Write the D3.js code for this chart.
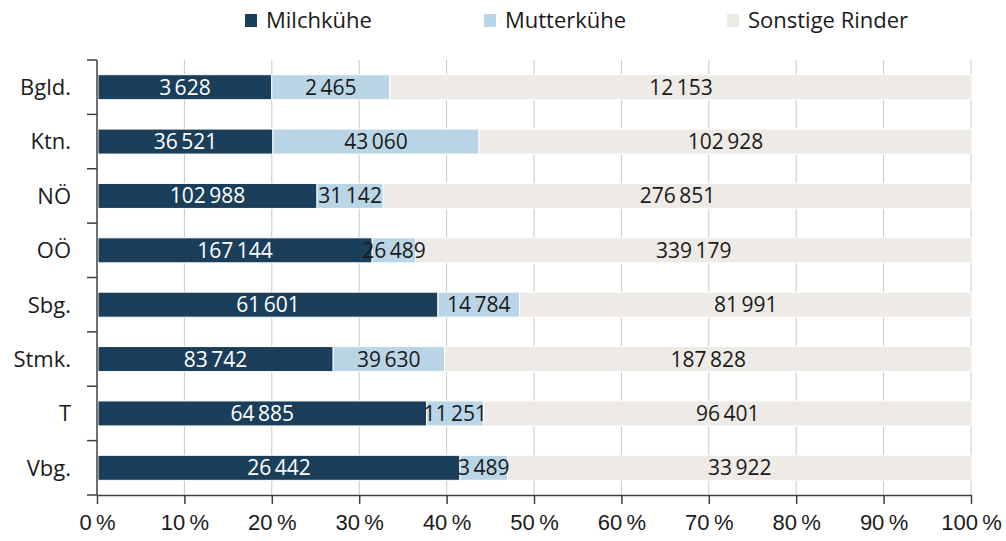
<!DOCTYPE html>
<html>
<head>
<meta charset="utf-8">
<script src="https://cdn.jsdelivr.net/npm/d3@7"></script>
<style>
  html, body { margin: 0; padding: 0; background: #fff; }
  svg { display: block; font-family: "Open Sans", Lato, sans-serif; }
</style>
</head>
<body>
<svg id="chart" width="1006" height="541"></svg>
<script>
const regions = ["Bgld.", "Ktn.", "NÖ", "OÖ", "Sbg.", "Stmk.", "T", "Vbg."];
const milchkuehe = [3628, 36521, 102988, 167144, 61601, 83742, 64885, 26442];
const mutterkuehe = [2465, 43060, 31142, 26489, 14784, 39630, 11251, 3489];
const sonstige = [12153, 102928, 276851, 339179, 81991, 187828, 96401, 33922];
const seriesNames = ["Milchkühe", "Mutterkühe", "Sonstige Rinder"];
const xTicks = [0, 10, 20, 30, 40, 50, 60, 70, 80, 90, 100];

const colors = ["#1b3f5a", "#bad6e6", "#eeeae6"];
const labelColors = ["#ffffff", "#1a1a1a", "#1a1a1a"];

const svg = d3.select("#chart");
const margin = { left: 97, right: 35, top: 60, bottom: 46 };
const width = 1006, height = 541;

const x = d3.scaleLinear().domain([0, 100]).range([margin.left, width - margin.right]);
const y = d3.scaleBand().domain(regions).range([margin.top, height - margin.bottom]).paddingInner(0.54).paddingOuter(0.27);

const fmt = d3.formatLocale({ decimal: ",", thousands: "\u2009", grouping: [3], currency: ["", "€"] }).format(",d");

const rows = regions.map((r, i) => {
  const vals = [milchkuehe[i], mutterkuehe[i], sonstige[i]];
  const total = d3.sum(vals);
  let acc = 0;
  return vals.map((v, k) => {
    const seg = { region: r, k, value: v, x0: acc / total * 100, x1: (acc + v) / total * 100 };
    acc += v;
    return seg;
  });
});

// gridlines
svg.append("g")
  .selectAll("line")
  .data(xTicks.filter(d => d > 0))
  .join("line")
  .attr("x1", d => x(d)).attr("x2", d => x(d))
  .attr("y1", margin.top).attr("y2", height - margin.bottom)
  .attr("stroke", "#c8c8c8").attr("stroke-width", 1);

// bars
const segs = rows.flat();
svg.append("g")
  .selectAll("rect")
  .data(segs)
  .join("rect")
  .attr("x", d => x(d.x0) + 1)
  .attr("y", d => y(d.region))
  .attr("width", d => x(d.x1) - x(d.x0))
  .attr("height", y.bandwidth())
  .attr("fill", d => colors[d.k])
  .attr("stroke", "#fff")
  .attr("stroke-width", 1);

svg.append("g")
  .selectAll("text")
  .data(segs)
  .join("text")
  .attr("x", d => (x(d.x0) + x(d.x1)) / 2 + 1)
  .attr("y", d => y(d.region) + y.bandwidth() / 2)
  .attr("dy", "0.36em")
  .attr("text-anchor", "middle")
  .attr("font-size", 21)
  .attr("fill", d => labelColors[d.k])
  .text(d => fmt(d.value));

// x axis
const xAxis = svg.append("g")
  .attr("transform", `translate(0,${height - margin.bottom})`)
  .call(d3.axisBottom(x).tickValues(xTicks).tickSize(9).tickSizeOuter(0).tickFormat(d => d + "\u2009%"));
xAxis.select(".domain").attr("stroke", "#404040").attr("stroke-width", 1.5);
xAxis.selectAll(".tick line").attr("stroke", "#404040").attr("stroke-width", 1.5);
xAxis.selectAll(".tick text").attr("font-size", 22).attr("fill", "#1a1a1a").attr("dy", "1.05em").attr("font-family", null);

// y axis with boundary ticks
const yAxisG = svg.append("g");
yAxisG.append("line")
  .attr("x1", margin.left).attr("x2", margin.left)
  .attr("y1", margin.top).attr("y2", height - margin.bottom)
  .attr("stroke", "#404040").attr("stroke-width", 1.5);
const bounds = d3.range(regions.length + 1).map(i => margin.top + i * (height - margin.top - margin.bottom) / regions.length);
yAxisG.selectAll("line.tick")
  .data(bounds)
  .join("line")
  .attr("class", "tick")
  .attr("x1", margin.left - 10).attr("x2", margin.left)
  .attr("y1", d => d).attr("y2", d => d)
  .attr("stroke", "#404040").attr("stroke-width", 1.5);
yAxisG.selectAll("text")
  .data(regions)
  .join("text")
  .attr("x", margin.left - 26)
  .attr("y", d => y(d) + y.bandwidth() / 2)
  .attr("dy", "0.36em")
  .attr("text-anchor", "end")
  .attr("font-size", 22)
  .attr("fill", "#1a1a1a")
  .text(d => d);

// legend
const legendX = [245, 484, 727];
const legend = svg.append("g")
  .selectAll("g")
  .data(seriesNames)
  .join("g")
  .attr("transform", (d, i) => `translate(${legendX[i]},20)`);
legend.append("rect")
  .attr("x", 0).attr("y", -6).attr("width", 12).attr("height", 13)
  .attr("fill", (d, i) => colors[i]);
legend.append("text")
  .attr("x", 21).attr("dy", "0.36em")
  .attr("font-size", 22)
  .attr("fill", "#1a1a1a")
  .text(d => d);
</script>
</body>
</html>
